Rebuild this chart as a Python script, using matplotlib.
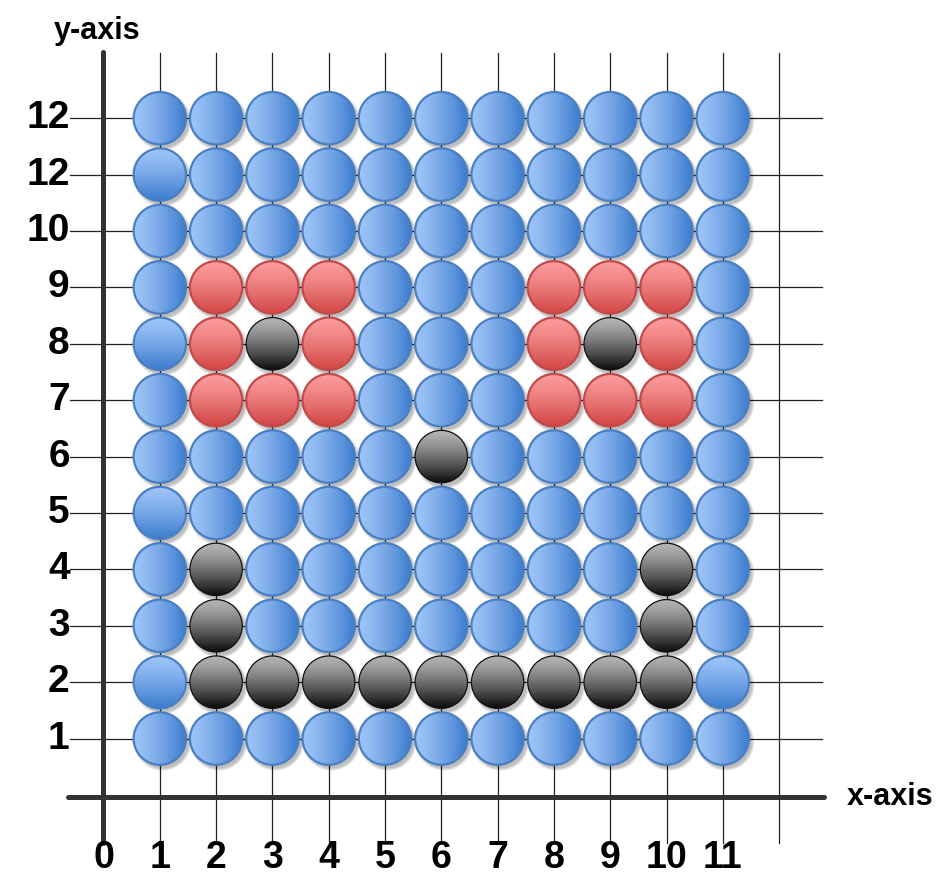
import matplotlib
matplotlib.use("Agg")
import matplotlib.pyplot as plt
from matplotlib.patches import Circle
from matplotlib.colors import to_rgb
import numpy as np

plt.rcParams['font.family'] = ['Liberation Sans', 'DejaVu Sans']

# data
x_ticks = list(range(0, 12))
x_tick_labels = ["0", "1", "2", "3", "4", "5", "6", "7", "8", "9", "10", "11"]
y_ticks = list(range(12, 0, -1))
y_tick_labels = ["12", "12", "10", "9", "8", "7", "6", "5", "4", "3", "2", "1"]
grid_x = list(range(1, 13))
grid_y = list(range(1, 13))

# B = blue (side shading), V = blue (top shading), R = red, K = black
# rows from y=12 (top) down to y=1, columns x=1..11
pattern = [
    "BBBBBBBBBBB",
    "VBBBBBBBBBB",
    "BBBBBBBBBBB",
    "BRRRBBBRRRB",
    "VRKRBBBRKRB",
    "BRRRBBBRRRB",
    "BBBBBKBBBBB",
    "VBBBBBBBBBB",
    "BKBBBBBBBKB",
    "BKBBBBBBBKB",
    "VKKKKKKKKKV",
    "BBBBBBBBBBB",
]

styles = {
    "B": dict(c0="#9dc4f8", c1="#3b7bcd", direction="h", edge="#4a7fc2", lw=1.6),
    "V": dict(c0="#9dc4f8", c1="#3b7bcd", direction="v", edge="#4a7fc2", lw=1.6),
    "R": dict(c0="#fb9c9c", c1="#d24444", direction="v", edge="#c24a4a", lw=1.6),
    "K": dict(c0="#b4b4b4", c1="#0d0d0d", direction="v", edge="#111111", lw=0.9),
}

# pixel scale of the picture
W, H = 941, 882
x0_px, y0_px = 103.5, 795.0
unit_x, unit_y = 56.3, 56.4

fig = plt.figure(figsize=(W / 100, H / 100), dpi=100)
ax = fig.add_axes([0, 0, 1, 1])
ax.axis('off')
xlim = (-x0_px / unit_x, (W - x0_px) / unit_x)
ylim = (-(H - y0_px) / unit_y, y0_px / unit_y)

# thin grid
for gx in grid_x:
    ax.plot([gx, gx], [-0.85, 13.16], color="#222222", lw=0.9, zorder=1)
for gy in grid_y:
    ax.plot([-0.6, 12.76], [gy, gy], color="#222222", lw=0.9, zorder=1)

# main axes lines
ax.plot([0, 0], [-0.85, 13.18], color="#333333", lw=3.6, solid_capstyle='round', zorder=2)
ax.plot([-0.63, 12.8], [-0.03, -0.03], color="#333333", lw=3.6, solid_capstyle='round', zorder=2)

r = 0.465
n = 64
t = np.linspace(0, 1, n) ** 1.3


def gradient(c0, c1, direction):
    c0 = np.array(to_rgb(c0))
    c1 = np.array(to_rgb(c1))
    line = c0[None, :] * (1 - t[:, None]) + c1[None, :] * t[:, None]
    if direction == "h":
        img = np.repeat(line[None, :, :], n, axis=0)
    else:
        img = np.repeat(line[:, None, :], n, axis=1)
    return img


for i, row in enumerate(pattern):
    cy = y_ticks[i]
    for j, code in enumerate(row):
        cx = j + 1
        st = styles[code]
        # soft shadow
        for k in range(4):
            ax.add_patch(Circle((cx + 0.05, cy - 0.06), r + 0.015 * k,
                                color="black", alpha=0.07, lw=0, zorder=3))
        img = gradient(st["c0"], st["c1"], st["direction"])
        im = ax.imshow(img, extent=[cx - r, cx + r, cy - r, cy + r],
                       origin='upper', aspect='auto', zorder=4, interpolation='bilinear')
        clip = Circle((cx, cy), r, transform=ax.transData)
        im.set_clip_path(clip)
        ax.add_patch(Circle((cx, cy), r, fill=False, edgecolor=st["edge"],
                            lw=st["lw"], zorder=5))

# tick labels
for yv, lab in zip(y_ticks, y_tick_labels):
    ax.text(-0.6, yv, lab, ha='right', va='center', fontsize=28,
            fontweight='bold', color='black')
for xv, lab in zip(x_ticks, x_tick_labels):
    ax.text(xv, -1.12, lab, ha='center', va='center', fontsize=27,
            fontweight='bold', color='black')

ax.text(-0.11, 13.55, "y-axis", ha='center', va='center', fontsize=22,
        fontweight='bold', color='black')
ax.text(13.97, -0.03, "x-axis", ha='center', va='center', fontsize=22,
        fontweight='bold', color='black')

ax.set_xlim(*xlim)
ax.set_ylim(*ylim)

fig.savefig("out.png", dpi=100)
